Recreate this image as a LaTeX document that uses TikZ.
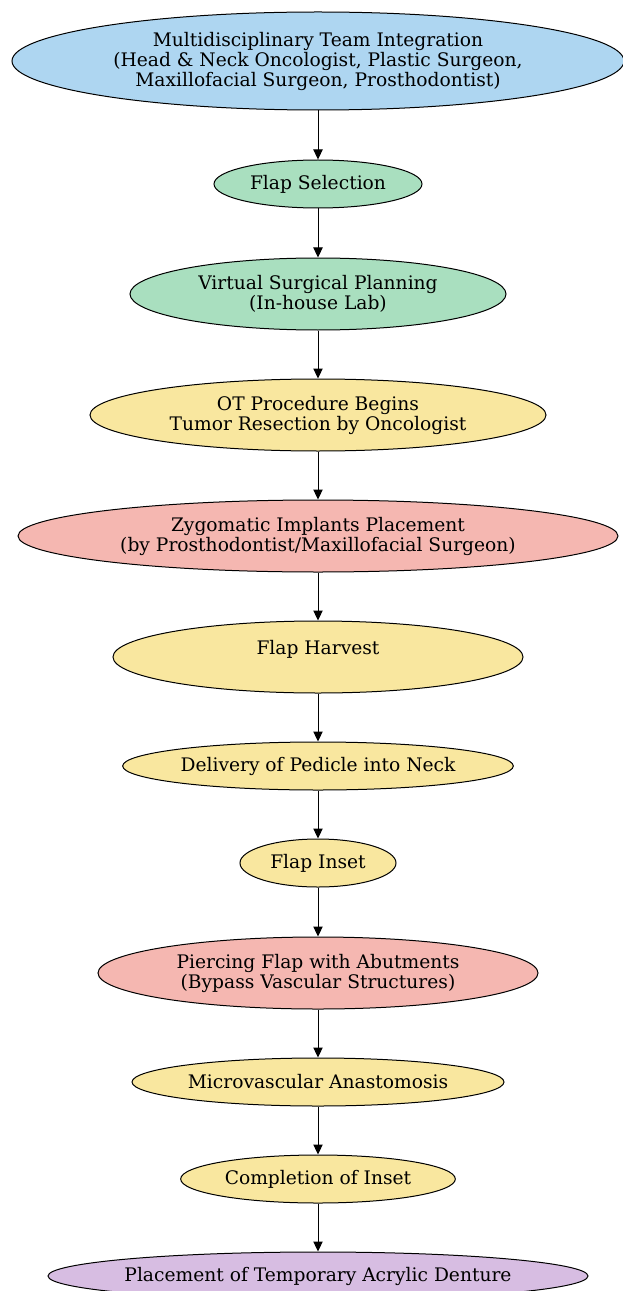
\documentclass[tikz,border=0pt]{standalone}
\usepackage{fontspec}
\setmainfont{DejaVu Serif}
\usetikzlibrary{shapes.geometric,arrows.meta}

\definecolor{teamblue}{HTML}{AED6F1}
\definecolor{plangreen}{HTML}{A9DFBF}
\definecolor{surgyellow}{HTML}{F9E79F}
\definecolor{implantred}{HTML}{F5B7B1}
\definecolor{denturepurple}{HTML}{D7BDE2}

\tikzstyle{stage}=[draw, ellipse, line width = 0.75pt, inner sep = 0pt,
  align = center, font = \fontsize{14}{15}\selectfont, minimum height = 36pt]
\tikzstyle{tall}=[minimum height = 54pt]

\begin{document}
\begin{tikzpicture}[>={Triangle[length = 7.5pt, width = 7pt]}, line width = 0.75pt]
\useasboundingbox (0,0) rectangle (467.25pt,-968.25pt);
%
\draw(238.5pt,-45.75pt) node[stage, fill = teamblue, minimum width = 459pt,
  minimum height = 73.5pt](team){Multidisciplinary Team Integration\\
  (Head \& Neck Oncologist, Plastic Surgeon,\\
  Maxillofacial Surgeon, Prosthodontist)};
\draw(238.5pt,-138pt) node[stage, fill = plangreen, minimum width = 156pt]
  (selection){Flap Selection};
\draw[->] (team) -- (selection);
%
\draw(238.5pt,-220.5pt) node[stage, tall, fill = plangreen, minimum width = 282pt]
  (planning){Virtual Surgical Planning\\(In-house Lab)};
\draw[->] (selection) -- (planning);
%
\draw(238.5pt,-311.25pt) node[stage, tall, fill = surgyellow, minimum width = 342pt]
  (resection){OT Procedure Begins\\Tumor Resection by Oncologist};
\draw[->] (planning) -- (resection);
%
\draw(238.5pt,-402pt) node[stage, tall, fill = implantred, minimum width = 450pt]
  (zygoma){Zygomatic Implants Placement\\(by Prosthodontist/Maxillofacial Surgeon)};
\draw[->] (resection) -- (zygoma);
%
\draw(238.5pt,-492.75pt) node[stage, tall, fill = surgyellow, minimum width = 307.5pt]
  (harvest){Flap Harvest\\ \mbox{}};
\draw[->] (zygoma) -- (harvest);
%
\draw(238.5pt,-574.5pt) node[stage, fill = surgyellow, minimum width = 293pt]
  (pedicle){Delivery of Pedicle into Neck};
\draw[->] (harvest) -- (pedicle);
%
\draw(238.5pt,-647.25pt) node[stage, fill = surgyellow, minimum width = 117pt]
  (inset){Flap Inset};
\draw[->] (pedicle) -- (inset);
%
\draw(238.5pt,-729.75pt) node[stage, tall, fill = implantred, minimum width = 330pt]
  (abutments){Piercing Flap with Abutments\\(Bypass Vascular Structures)};
\draw[->] (inset) -- (abutments);
%
\draw(238.5pt,-811.5pt) node[stage, fill = surgyellow, minimum width = 279pt]
  (anastomosis){Microvascular Anastomosis};
\draw[->] (abutments) -- (anastomosis);
%
\draw(238.5pt,-884.25pt) node[stage, fill = surgyellow, minimum width = 206pt]
  (completion){Completion of Inset};
\draw[->] (anastomosis) -- (completion);
%
\draw(238.5pt,-957pt) node[stage, fill = denturepurple, minimum width = 405pt,
  inner xsep = -2pt](denture){Placement of Temporary Acrylic Denture};
\draw[->] (completion) -- (denture);
\end{tikzpicture}
\end{document}
